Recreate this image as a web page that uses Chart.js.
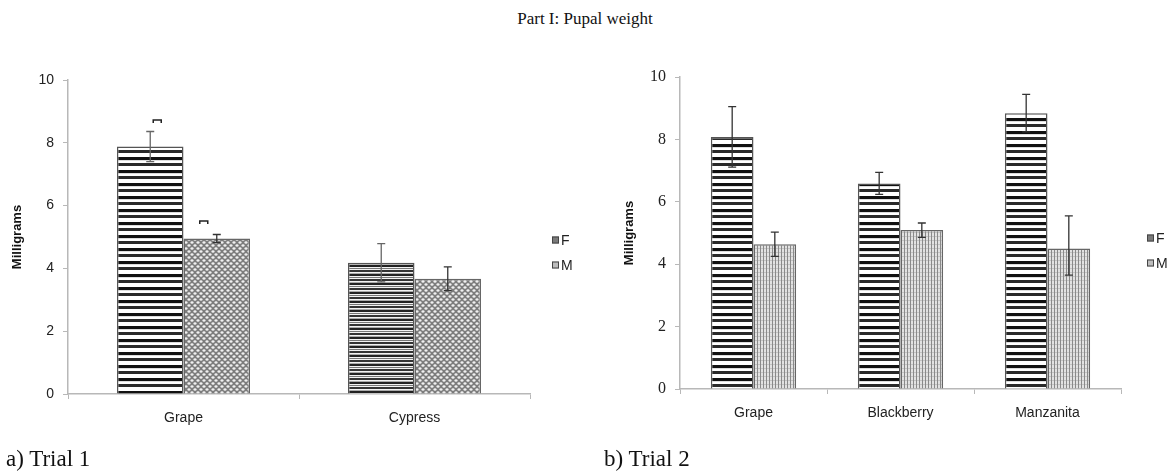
<!DOCTYPE html>
<html>
<head>
<meta charset="utf-8">
<script src="https://cdn.jsdelivr.net/npm/chart.js@4.4.0/dist/chart.umd.min.js"></script>
<style>
  body { margin: 0; background: #fff; width: 1170px; height: 476px; position: relative; overflow: hidden; }
  .title { position: absolute; top: 9px; left: 0; width: 1170px; text-align: center; font: 17px "Liberation Serif", serif; color: #111; }
  .caption { position: absolute; top: 446px; font: 23px "Liberation Serif", serif; line-height: normal; color: #111; }
  canvas { position: absolute; top: 40px; }
</style>
</head>
<body>
<div class="title">Part I: Pupal weight</div>
<canvas id="trial1" width="580" height="410" style="left:0"></canvas>
<canvas id="trial2" width="590" height="410" style="left:580px"></canvas>
<div class="caption" style="left:6px">a) Trial 1</div>
<div class="caption" style="left:604px">b) Trial 2</div>

<script>
// Trial 1
const t1Categories = ['Grape', 'Cypress'];
const t1Female = [7.88, 4.18];
const t1FemaleErr = [0.48, 0.61];
const t1Male = [4.95, 3.67];
const t1MaleErr = [0.13, 0.38];
// small stray brackets above the grape bars
const t1FemaleMark = [8.73, null];
const t1MaleMark = [5.51, null];

// Trial 2
const t2Categories = ['Grape', 'Blackberry', 'Manzanita'];
const t2Female = [8.08, 6.59, 8.84];
const t2FemaleErr = [0.97, 0.35, 0.6];
const t2Male = [4.64, 5.1, 4.5];
const t2MaleErrUp = [0.39, 0.22, 1.05];
const t2MaleErrDown = [0.39, 0.24, 0.85];

const yTicks = [0, 2, 4, 6, 8, 10];

function makePattern(w, h, draw) {
    const c = document.createElement('canvas');
    c.width = w; c.height = h;
    draw(c.getContext('2d'));
    return c.getContext('2d').createPattern(c, 'repeat');
}

const stripesBold = makePattern(4, 13, g => {
    g.fillStyle = '#fff'; g.fillRect(0, 0, 4, 13);
    g.fillStyle = '#111'; g.fillRect(0, 0, 4, 3);
    g.fillStyle = '#2a2a2a'; g.fillRect(0, 6, 4, 3);
    g.fillStyle = '#ddd'; g.fillRect(0, 3, 4, 1);
});
const stripesFine = makePattern(4, 9, g => {
    g.fillStyle = '#f2f2f2'; g.fillRect(0, 0, 4, 9);
    g.fillStyle = '#222'; g.fillRect(0, 0, 4, 2);
    g.fillStyle = '#777'; g.fillRect(0, 3, 4, 1);
    g.fillStyle = '#333'; g.fillRect(0, 5, 4, 2);
    g.fillStyle = '#aaa'; g.fillRect(0, 8, 4, 1);
});
const dots = makePattern(6, 6, g => {
    g.fillStyle = '#7c7c7c'; g.fillRect(0, 0, 6, 6);
    g.fillStyle = '#f0f0f0';
    g.beginPath(); g.ellipse(3, 1.5, 1.6, 1.2, 0, 0, Math.PI * 2); g.fill();
    g.beginPath(); g.ellipse(0, 4.5, 1.6, 1.2, 0, 0, Math.PI * 2); g.fill();
    g.beginPath(); g.ellipse(6, 4.5, 1.6, 1.2, 0, 0, Math.PI * 2); g.fill();
});
const hatch = makePattern(3, 4, g => {
    g.fillStyle = '#e2e2e2'; g.fillRect(0, 0, 3, 4);
    g.fillStyle = '#8a8a8a'; g.fillRect(0, 0, 1, 4);
    g.fillStyle = '#c4c4c4'; g.fillRect(1, 0, 2, 1);
});

// error bars, stray marks and legend drawn on top of the bars
const extrasPlugin = {
    id: 'extras',
    afterDatasetsDraw(chart, args, opts) {
        const g = chart.ctx;
        const y = chart.scales.y;
        g.save();
        chart.data.datasets.forEach((ds, i) => {
            const meta = chart.getDatasetMeta(i);
            meta.data.forEach((bar, j) => {
                const v = ds.data[j];
                const up = ds.errUp ? ds.errUp[j] : 0;
                const dn = ds.errDown ? ds.errDown[j] : up;
                const y1 = y.getPixelForValue(v + up);
                const y2 = y.getPixelForValue(v - dn);
                g.strokeStyle = ds.errColor || '#333';
                g.lineWidth = 1.3;
                g.beginPath();
                g.moveTo(bar.x, y1); g.lineTo(bar.x, y2);
                g.moveTo(bar.x - 4, y1); g.lineTo(bar.x + 4, y1);
                g.moveTo(bar.x - 4, y2); g.lineTo(bar.x + 4, y2);
                g.stroke();
                if (ds.marks && ds.marks[j] != null) {
                    const my = y.getPixelForValue(ds.marks[j]);
                    const mx = bar.x + (ds.markShift || 0);
                    g.strokeStyle = '#222';
                    g.lineWidth = 1.5;
                    g.beginPath();
                    g.moveTo(mx - 4, my + 3); g.lineTo(mx - 4, my); g.lineTo(mx + 4, my); g.lineTo(mx + 4, my + 3);
                    g.stroke();
                }
            });
        });
        // legend
        g.font = '14px "Liberation Sans", Arial, sans-serif';
        g.textBaseline = 'middle';
        chart.data.datasets.forEach((ds, i) => {
            const ly = opts.y + i * 25;
            g.fillStyle = ds.legendColor;
            g.fillRect(opts.x, ly - 3.5, 7, 7);
            g.strokeStyle = '#444';
            g.lineWidth = 1;
            g.strokeRect(opts.x + 0.5, ly - 3, 6, 6);
            g.fillStyle = '#222';
            g.fillText(ds.label, opts.x + 9, ly + 1);
        });
        g.restore();
    }
};

function buildOptions(cfg) {
    return {
        responsive: false,
        animation: false,
        layout: { padding: { left: 0, right: cfg.padRight, top: cfg.padTop, bottom: 0 } },
        plugins: {
            legend: { display: false },
            tooltip: { enabled: false },
            extras: { x: cfg.legendX, y: cfg.legendY }
        },
        scales: {
            x: {
                grid: { offset: true, drawOnChartArea: false, drawTicks: true, tickLength: 5, color: '#b8b8b8' },
                border: { color: '#b8b8b8', width: 1.5 },
                ticks: { padding: 11, color: '#222', font: { family: '"Liberation Sans", Arial, sans-serif', size: 14 } },
                afterFit: s => { s.height = cfg.xHeight; }
            },
            y: {
                min: 0, max: 10,
                afterBuildTicks: s => { s.ticks = yTicks.map(v => ({ value: v })); },
                grid: { drawOnChartArea: false, drawTicks: true, tickLength: 5, color: '#b8b8b8' },
                border: { color: '#b8b8b8', width: 1.5 },
                ticks: { padding: 9, color: '#222', font: cfg.yFont },
                title: {
                    display: true, text: 'Milligrams', color: '#111',
                    padding: { top: cfg.titlePad, bottom: 0 },
                    font: { family: '"Liberation Sans", Arial, sans-serif', size: 13, weight: 'bold' }
                },
                afterFit: s => { s.width = cfg.yWidth; }
            }
        }
    };
}

new Chart(document.getElementById('trial1'), {
    type: 'bar',
    data: {
        labels: t1Categories,
        datasets: [{
            label: 'F',
            data: t1Female,
            errUp: t1FemaleErr,
            marks: t1FemaleMark,
            markShift: 7,
            errColor: '#666',
            backgroundColor: [stripesBold, stripesFine],
            legendColor: '#7a7a7a',
            borderColor: '#555',
            borderWidth: 1.5,
            categoryPercentage: 0.576,
            barPercentage: 1
        }, {
            label: 'M',
            data: t1Male,
            errUp: t1MaleErr,
            marks: t1MaleMark,
            markShift: -13,
            errColor: '#333',
            backgroundColor: dots,
            legendColor: '#bdbdbd',
            borderColor: '#666',
            borderWidth: 1.5,
            categoryPercentage: 0.576,
            barPercentage: 1
        }]
    },
    options: buildOptions({
        padRight: 50, padTop: 40, xHeight: 56, yWidth: 68, titlePad: 10,
        legendX: 552, legendY: 200,
        yFont: { family: '"Liberation Sans", Arial, sans-serif', size: 14 }
    }),
    plugins: [extrasPlugin]
});

new Chart(document.getElementById('trial2'), {
    type: 'bar',
    data: {
        labels: t2Categories,
        datasets: [{
            label: 'F',
            data: t2Female,
            errUp: t2FemaleErr,
            errColor: '#333',
            backgroundColor: stripesBold,
            legendColor: '#7a7a7a',
            borderColor: '#555',
            borderWidth: 1.5,
            categoryPercentage: 0.58,
            barPercentage: 1
        }, {
            label: 'M',
            data: t2Male,
            errUp: t2MaleErrUp,
            errDown: t2MaleErrDown,
            errColor: '#333',
            backgroundColor: hatch,
            legendColor: '#bdbdbd',
            borderColor: '#666',
            borderWidth: 1.5,
            categoryPercentage: 0.58,
            barPercentage: 1
        }]
    },
    options: buildOptions({
        padRight: 49, padTop: 37, xHeight: 61, yWidth: 100, titlePad: 42,
        legendX: 567, legendY: 198,
        yFont: { family: '"Liberation Serif", serif', size: 16 }
    }),
    plugins: [extrasPlugin]
});
</script>
</body>
</html>
